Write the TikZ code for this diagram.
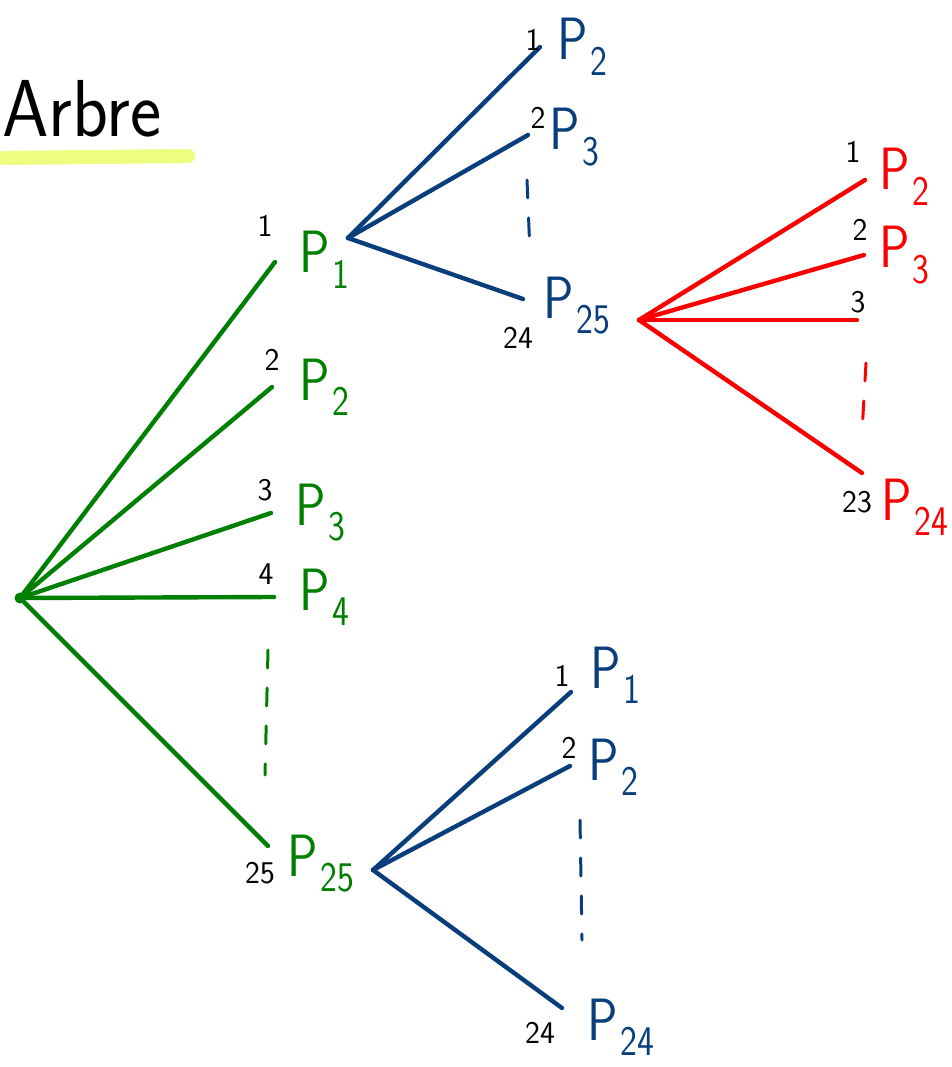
\documentclass[tikz,border=0pt]{standalone}
\usepackage{tikz}

\definecolor{vert}{RGB}{0,128,0}
\definecolor{bleu}{RGB}{8,62,124}
\definecolor{rouge}{RGB}{250,0,0}
\definecolor{surligne}{RGB}{238,252,128}

\newcommand{\Pn}[1]{P\kern2pt\raisebox{-0.6ex}{\fontsize{24}{24}\selectfont #1}}

\begin{document}
\begin{tikzpicture}[x=0.02cm,y=-0.02cm,line cap=round,
		br/.style={line width=2.5pt},
		pointille/.style={line width=1.7pt,dash pattern=on 0.36cm off 0.4cm},
		lbl/.style={anchor=base west,inner sep=0pt,xscale=0.85,font=\sffamily\fontsize{34}{34}\selectfont},
		num/.style={inner sep=0pt,font=\sffamily\fontsize{18}{18}\selectfont}]
				\useasboundingbox (0,0) rectangle (951,1067);
				
				% titre
				\draw[surligne,line width=8pt] (4,158) -- (188,156);
				\node[font=\sffamily\fontsize{46}{46}\selectfont,xscale=0.92,anchor=base west,inner sep=0pt] (titre) at (2,137) {Arbre};
				
				% premier niveau
				\coordinate (r0) at (20,598);
				\fill[vert] (r0) circle (5.5);
				\coordinate (g1) at (275,262);
				\coordinate (g2) at (272,387);
				\coordinate (g3) at (271,513);
				\coordinate (g4) at (274,597);
				\coordinate (g25) at (268,846);
				\draw[vert,br] (r0) -- (g1);
				\draw[vert,br] (r0) -- (g2);
				\draw[vert,br] (r0) -- (g3);
				\draw[vert,br] (r0) -- (g4);
				\draw[vert,br] (r0) -- (g25);
				\draw[vert,pointille] (268,650) -- (265,775);
				
				\node[lbl,text=vert] (lg1) at (299,273) {\Pn{1}};
				\node[lbl,text=vert] (lg2) at (299,400) {\Pn{2}};
				\node[lbl,text=vert] (lg3) at (295,525) {\Pn{3}};
				\node[lbl,text=vert] (lg4) at (299,610) {\Pn{4}};
				\node[lbl,text=vert] (lg25) at (287,876) {\Pn{25}};
				\node[num] (ng1) at (265,226) {1};
				\node[num] (ng2) at (272,360) {2};
				\node[num] (ng3) at (265,490) {3};
				\node[num] (ng4) at (266,574) {4};
				\node[num] (ng25) at (260,873) {25};
				
				% apres P1
				\coordinate (b0) at (348,238);
				\coordinate (b2) at (540,47);
				\coordinate (b3) at (528,135);
				\coordinate (b25) at (523,299);
				\draw[bleu,br] (b0) -- (b2);
				\draw[bleu,br] (b0) -- (b3);
				\draw[bleu,br] (b0) -- (b25);
				\draw[bleu,pointille] (527,180) -- (530,253);
				
				\node[lbl,text=bleu] (lb2) at (557,60) {\Pn{2}};
				\node[lbl,text=bleu] (lb3) at (549,150) {\Pn{3}};
				\node[lbl,text=bleu] (lb25) at (543,318) {\Pn{25}};
				\node[num] (nb2) at (533,40) {1};
				\node[num] (nb3) at (538,118) {2};
				\node[num] (nb25) at (518,338) {24};
				
				% apres P25
				\coordinate (q0) at (639,320);
				\coordinate (q2) at (865,180);
				\coordinate (q3) at (864,255);
				\coordinate (q4) at (857,320);
				\coordinate (q24) at (862,473);
				\draw[rouge,br] (q0) -- (q2);
				\draw[rouge,br] (q0) -- (q3);
				\draw[rouge,br] (q0) -- (q4);
				\draw[rouge,br] (q0) -- (q24);
				\draw[rouge,pointille] (866,363) -- (862,432);
				
				\node[lbl,text=rouge] (lq2) at (879,190) {\Pn{2}};
				\node[lbl,text=rouge] (lq3) at (879,268) {\Pn{3}};
				\node[lbl,text=rouge] (lq24) at (881,520) {\Pn{24}};
				\node[num] (nq2) at (853,152) {1};
				\node[num] (nq3) at (860,230) {2};
				\node[num] (nq4) at (858,302) {3};
				\node[num] (nq24) at (857,502) {23};
				
				% apres P25 (premier niveau)
				\coordinate (c0) at (373,870);
				\coordinate (c1) at (571,692);
				\coordinate (c2) at (570,766);
				\coordinate (c24) at (562,1008);
				\draw[bleu,br] (c0) -- (c1);
				\draw[bleu,br] (c0) -- (c2);
				\draw[bleu,br] (c0) -- (c24);
				\draw[bleu,pointille] (580,820) -- (582,940);
				
				\node[lbl,text=bleu] (lc1) at (590,688) {\Pn{1}};
				\node[lbl,text=bleu] (lc2) at (588,780) {\Pn{2}};
				\node[lbl,text=bleu] (lc24) at (587,1040) {\Pn{24}};
				\node[num] (nc1) at (562,676) {1};
				\node[num] (nc2) at (569,748) {2};
				\node[num] (nc24) at (540,1033) {24};
			\end{tikzpicture}
\end{document}
